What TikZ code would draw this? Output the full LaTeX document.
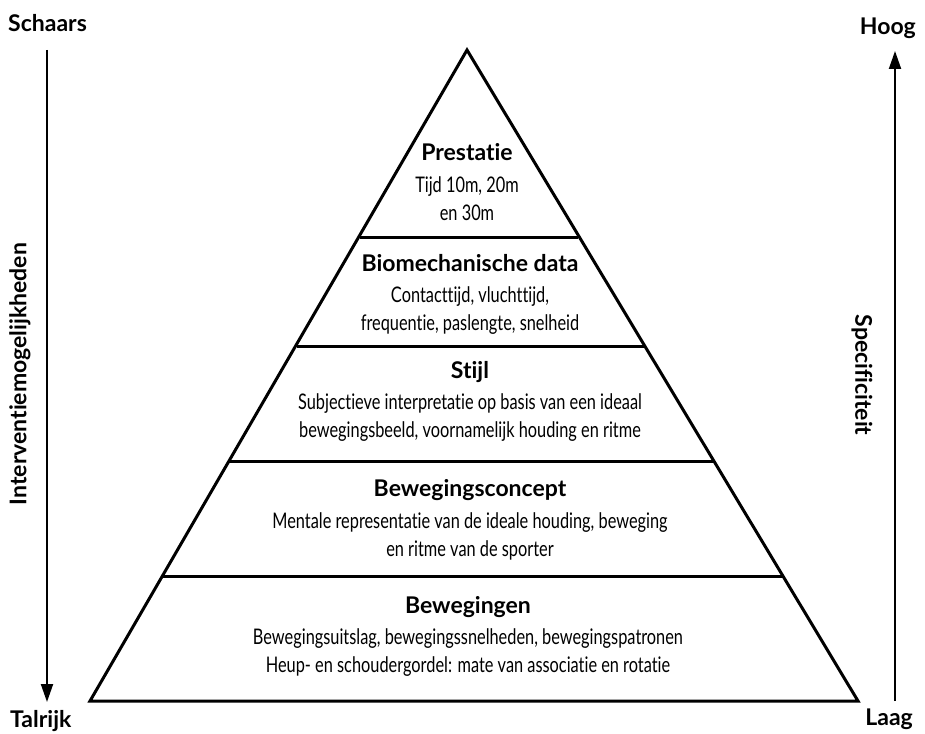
\documentclass[tikz,border=0pt]{standalone}
\usepackage{fontspec}
\setmainfont{Lato}[RawFeature={-liga;-clig;-dlig;-calt}]
\newfontfamily\condfont[FakeStretch=0.76,RawFeature={-liga;-clig;-dlig;-calt}]{Lato}
\usetikzlibrary{arrows.meta}
\tikzset{
  pyr/.style={line width=3pt, line join=miter},
  layerline/.style={line width=3pt},
  axis/.style={line width=2pt, -{Triangle[length=18pt,width=12pt]}},
  ttl/.style={anchor=base, inner sep=0pt, font=\fontsize{23}{26}\selectfont\bfseries},
  body/.style={anchor=base, inner sep=0pt, font=\fontsize{21.5}{24}\selectfont\condfont},
  lbl/.style={inner sep=0pt, font=\fontsize{23}{26}\selectfont\bfseries},
}
\begin{document}
\begin{tikzpicture}[x=1pt,y=-1pt]
\useasboundingbox (0,0) rectangle (925,733);
% pyramid
\coordinate (apex) at (467,50);
\coordinate (bl) at (90,701);
\coordinate (br) at (858,701);
\draw[pyr] (apex) -- (bl) -- (br) -- cycle;
\coordinate (l1a) at (360,237); \coordinate (l1b) at (578,237);
\coordinate (l2a) at (297,346); \coordinate (l2b) at (644,346);
\coordinate (l3a) at (229,461); \coordinate (l3b) at (714,461);
\coordinate (l4a) at (163,576); \coordinate (l4b) at (782,576);
\draw[layerline] (l1a) -- (l1b);
\draw[layerline] (l2a) -- (l2b);
\draw[layerline] (l3a) -- (l3b);
\draw[layerline] (l4a) -- (l4b);
% layer texts
\node[ttl] (t1) at (467,160) {Prestatie};
\node[body] (t1a) at (467,192) {Tijd 10m, 20m};
\node[body] (t1b) at (467,220) {en 30m};
\node[ttl] (t2) at (470,271) {Biomechanische data};
\node[body] (t2a) at (470,302) {Contacttijd, vluchttijd,};
\node[body] (t2b) at (470,330) {frequentie, paslengte, snelheid};
\node[ttl] (t3) at (470,378) {Stijl};
\node[body] (t3a) at (470,409) {Subjectieve interpretatie op basis van een ideaal};
\node[body] (t3b) at (470,437) {bewegingsbeeld, voornamelijk houding en ritme};
\node[ttl] (t4) at (470,496) {Bewegingsconcept};
\node[body] (t4a) at (470,528) {Mentale representatie van de ideale houding, beweging};
\node[body] (t4b) at (470,556) {en ritme van de sporter};
\node[ttl] (t5) at (468,613) {Bewegingen};
\node[body] (t5a) at (468,644) {Bewegingsuitslag, bewegingssnelheden, bewegingspatronen};
\node[body] (t5b) at (468,672) {Heup- en schoudergordel: mate van associatie en rotatie};
% axes
\coordinate (la) at (47,50);
\coordinate (lb) at (47,702);
\draw[axis] (la) -- (lb);
\coordinate (ra) at (895,701);
\coordinate (rb) at (895,51);
\draw[axis] (ra) -- (rb);
% labels
\node[lbl, anchor=base west] (schaars) at (8,32) {Schaars};
\node[lbl, anchor=base east] (hoog) at (916,35) {Hoog};
\node[lbl, anchor=base west] (talrijk) at (10,727) {Talrijk};
\node[lbl, anchor=base east] (laag) at (913,725) {Laag};
\node[lbl, rotate=90] (interv) at (20,374) {Interventiemogelijkheden};
\node[lbl, rotate=-90] (spec) at (862,375) {Specificiteit};
\end{tikzpicture}
\end{document}
